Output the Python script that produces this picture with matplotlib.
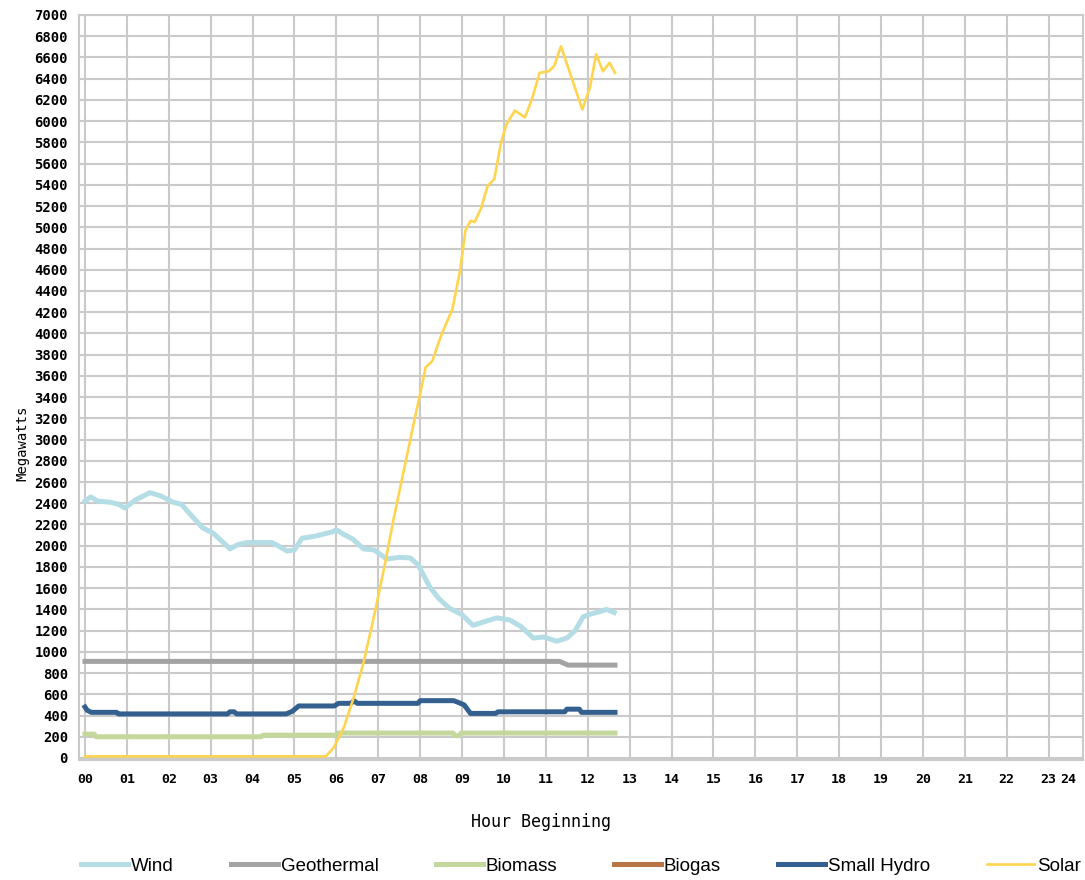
import matplotlib
matplotlib.use("Agg")
import matplotlib.pyplot as plt

# hour-beginning labels on the x axis
hour_labels = ["%02d" % h for h in range(25)]

# Wind
wind_hours = [0.0, 0.14, 0.3, 0.6, 0.8, 0.95, 1.2, 1.55, 1.8, 2.1, 2.3, 2.55, 2.8, 3.05,
              3.3, 3.46, 3.65, 3.87, 4.2, 4.46, 4.65, 4.82, 5.0, 5.18, 5.5, 5.9, 6.0,
              6.16, 6.4, 6.65, 6.9, 7.2, 7.5, 7.76, 7.95, 8.23, 8.45, 8.7, 9.0, 9.26,
              9.5, 9.83, 10.14, 10.4, 10.7, 10.95, 11.26, 11.5, 11.7, 11.89, 12.1, 12.3,
              12.45, 12.63]
wind_mw = [2420, 2460, 2420, 2410, 2390, 2355, 2430, 2500, 2470, 2410, 2390, 2280, 2170, 2120,
           2030, 1970, 2010, 2030, 2030, 2030, 1990, 1950, 1960, 2070, 2090, 2130, 2150,
           2110, 2060, 1970, 1960, 1875, 1890, 1885, 1820, 1610, 1500, 1410, 1350, 1250,
           1280, 1320, 1300, 1240, 1130, 1140, 1100, 1130, 1200, 1330, 1360, 1380,
           1400, 1370]

# Geothermal
geo_hours = [0.0, 11.33, 11.53, 12.65]
geo_mw = [910, 910, 875, 875]

# Biomass
biomass_hours = [0.0, 0.22, 0.26, 4.2, 4.25, 5.98, 6.05, 8.78, 8.84, 8.92, 8.98, 12.65]
biomass_mw = [225, 225, 200, 200, 215, 215, 235, 235, 210, 210, 235, 235]

# Biogas (no line visible)
biogas_hours = []
biogas_mw = []

# Small Hydro
hydro_hours = [0.0, 0.05, 0.15, 0.75, 0.8, 3.4, 3.46, 3.56, 3.62, 4.8, 4.95, 5.1,
               5.95, 6.05, 6.35, 6.42, 6.5, 7.95, 8.0, 8.8, 8.9, 9.05, 9.2,
               9.8, 9.86, 11.45, 11.5, 11.8, 11.85, 12.65]
hydro_mw = [480, 450, 430, 430, 415, 415, 435, 435, 415, 415, 440, 490,
            490, 515, 515, 540, 515, 515, 540, 540, 525, 500, 420,
            420, 435, 435, 460, 460, 430, 430]

# Solar
solar_hours = [0.0, 5.75, 5.94, 6.18, 6.41, 6.65, 6.89, 7.13, 7.37, 7.61, 7.85, 8.01, 8.13,
               8.29, 8.49, 8.77, 8.96, 9.08, 9.2, 9.3, 9.45, 9.61, 9.77, 9.93, 10.06, 10.26,
               10.5, 10.67, 10.85, 11.07, 11.2, 11.36, 11.6, 11.87, 12.05, 12.2, 12.36,
               12.52, 12.65]
solar_mw = [15, 15, 100, 290, 565, 900, 1320, 1770, 2260, 2710, 3160, 3450, 3680,
            3740, 3970, 4230, 4610, 4970, 5060, 5050, 5175, 5390, 5455, 5800, 5970, 6100,
            6035, 6210, 6455, 6470, 6520, 6705, 6425, 6110, 6315, 6630, 6470,
            6550, 6455]

grid_c = "#cacaca"
mono = "DejaVu Sans Mono"

fig = plt.figure(figsize=(10.85, 8.8), dpi=100)
ax = fig.add_axes([79 / 1085, 1 - 760 / 880, 1004 / 1085, 745 / 880])

l_wind, = ax.plot(wind_hours, wind_mw, color="#b4dde6", lw=3.6, label="Wind")
l_geo, = ax.plot(geo_hours, geo_mw, color="#a3a3a3", lw=3.6, label="Geothermal")
l_bio, = ax.plot(biomass_hours, biomass_mw, color="#c4d89e", lw=3.6, label="Biomass")
l_gas, = ax.plot(biogas_hours, biogas_mw, color="#b87444", lw=3.6, label="Biogas")
l_hyd, = ax.plot(hydro_hours, hydro_mw, color="#33608f", lw=3.6, label="Small Hydro")
l_sol, = ax.plot(solar_hours, solar_mw, color="#ffd44f", lw=1.9, label="Solar")

ax.set_xlim(-0.143, 23.82)
ax.set_ylim(-19, 7000)

ax.set_yticks(range(0, 7001, 200))
ax.set_yticklabels([str(v) for v in range(0, 7001, 200)], fontfamily=mono, fontsize=10,
                   fontweight="bold")
ax.set_xticks(range(24))
ax.set_xticklabels(hour_labels[:24], fontfamily=mono, fontsize=9.5, fontweight="bold")
ax.set_xticks([23.46], minor=True)
ax.set_xticklabels(hour_labels[24:], minor=True, fontfamily=mono, fontsize=9.5,
                   fontweight="bold")
ax.tick_params(axis="both", which="both", length=0, colors="black")
ax.tick_params(axis="y", which="both", pad=8)
ax.tick_params(axis="x", which="both", pad=9)

ax.grid(True, which="major", color=grid_c, lw=1.5)
ax.set_axisbelow(True)
for s in ax.spines.values():
    s.set_color(grid_c)
    s.set_linewidth(1.5)

fig.text(22 / 1085, 1 - 443 / 880, "Megawatts", rotation=90, ha="center", va="center",
         fontfamily=mono, fontsize=10)
fig.text(541 / 1085, 1 - 822 / 880, "Hour Beginning", ha="center", va="center",
         fontfamily=mono, fontsize=12)

fig.legend(handles=[l_wind, l_geo, l_bio, l_gas, l_hyd, l_sol], loc="center",
           bbox_to_anchor=(581 / 1085, 1 - 866 / 880), ncol=6, frameon=False,
           prop={"family": "Liberation Sans", "size": 13.5}, handlelength=2.5,
           handletextpad=0.15, columnspacing=3.05, borderpad=0)

fig.savefig("out.png", dpi=100)
